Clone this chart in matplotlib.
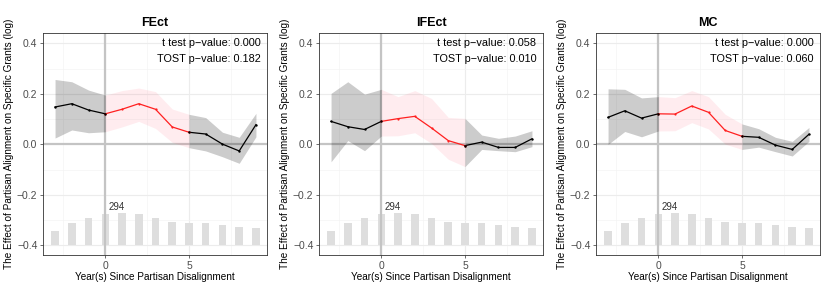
import numpy as np
import matplotlib
matplotlib.use("Agg")
import matplotlib.pyplot as plt

plt.rcParams['font.family'] = ['Liberation Sans', 'DejaVu Sans']
plt.rcParams['axes.unicode_minus'] = True

years = [-3, -2, -1, 0, 1, 2, 3, 4, 5, 6, 7, 8, 9]
counts = [132, 200, 246, 283, 294, 283, 246, 214, 200, 200, 182, 166, 157]

titles = ["FEct", "IFEct", "MC"]
t_pvals = ["0.000", "0.058", "0.000"]
tost_pvals = ["0.182", "0.010", "0.060"]

fect_est = [0.148, 0.161, 0.136, 0.121, 0.139, 0.161, 0.139, 0.069, 0.048, 0.041, 0.001, -0.026, 0.078]
fect_hi = [0.257, 0.248, 0.215, 0.195, 0.213, 0.223, 0.209, 0.140, 0.119, 0.106, 0.048, 0.028, 0.123]
fect_lo = [0.025, 0.057, 0.046, 0.050, 0.069, 0.091, 0.063, 0.008, -0.013, -0.026, -0.049, -0.075, 0.030]

ifect_est = [0.091, 0.070, 0.059, 0.091, 0.102, 0.111, 0.065, 0.015, -0.005, 0.009, -0.012, -0.012, 0.022]
ifect_hi = [0.202, 0.248, 0.199, 0.218, 0.189, 0.213, 0.182, 0.107, 0.103, 0.037, 0.024, 0.033, 0.054]
ifect_lo = [-0.069, 0.015, -0.025, 0.033, 0.034, 0.046, 0.004, -0.059, -0.088, -0.020, -0.025, -0.029, -0.009]

mc_est = [0.107, 0.133, 0.104, 0.121, 0.120, 0.152, 0.127, 0.055, 0.032, 0.028, -0.003, -0.020, 0.040]
mc_hi = [0.220, 0.218, 0.184, 0.189, 0.185, 0.213, 0.189, 0.119, 0.081, 0.062, 0.028, 0.012, 0.067]
mc_lo = [0.000, 0.051, 0.030, 0.053, 0.054, 0.086, 0.061, 0.001, -0.020, -0.011, -0.029, -0.046, 0.012]

series = [(fect_est, fect_lo, fect_hi), (ifect_est, ifect_lo, ifect_hi), (mc_est, mc_lo, mc_hi)]

fig = plt.figure(figsize=(8.3, 2.93), dpi=100)
lefts = [43, 319, 596]
x = np.array(years)
bar_base = -0.4
bar_scale = 0.129 / max(counts)

for k in range(3):
    ax = fig.add_axes([lefts[k] / 830, 38 / 293, 224 / 830, 222 / 293])
    est, lo, hi = [np.array(s) for s in series[k]]

    # grid
    for g in [-2.5, 2.5, 7.5]:
        ax.axvline(g, color='#f4f4f4', lw=0.5, zorder=0)
    for g in [0, 5]:
        ax.axvline(g, color='#ececec', lw=0.8, zorder=0)
    for g in [-0.3, -0.1, 0.1, 0.3]:
        ax.axhline(g, color='#f4f4f4', lw=0.5, zorder=0)
    for g in [-0.4, -0.2, 0.2, 0.4]:
        ax.axhline(g, color='#ececec', lw=0.8, zorder=0)

    # count bars
    h = np.array(counts) * bar_scale
    ax.bar(x, h, bottom=bar_base, width=0.45, color='#dedede', zorder=1)
    imax = int(np.argmax(counts))
    ax.text(x[imax] - 0.3, bar_base + h[imax] + 0.022, str(counts[imax]),
            ha='center', va='center', fontsize=7, color='#333333')

    ax.axhline(0, color='#c4c4c4', lw=1.6, zorder=2)
    ax.axvline(0, color='#c4c4c4', lw=1.6, zorder=2)

    pre = x <= 0
    mid = (x >= 0) & (x <= 5)
    post = x >= 5
    ax.fill_between(x[pre], lo[pre], hi[pre], color='#000000', alpha=0.2, lw=0, zorder=3)
    ax.fill_between(x[post], lo[post], hi[post], color='#000000', alpha=0.2, lw=0, zorder=3)
    ax.fill_between(x[mid], lo[mid], hi[mid], color='#ff3355', alpha=0.09, lw=0, zorder=3)

    ax.plot(x[mid], est[mid], color='#ff2020', lw=0.9, zorder=4)
    ax.scatter(x[mid], est[mid], color='#ff2020', s=2.5, lw=0, zorder=5)
    ax.plot(x[pre], est[pre], color='black', lw=0.9, zorder=4)
    ax.plot(x[post], est[post], color='black', lw=0.9, zorder=4)
    ax.scatter(x[pre], est[pre], color='black', s=3, lw=0, zorder=5)
    ax.scatter(x[post], est[post], color='black', s=3, lw=0, zorder=5)

    ax.text(9.27, 0.403, "t test p\u2212value: " + t_pvals[k], ha='right', va='center', fontsize=7.8)
    ax.text(9.27, 0.338, "TOST p\u2212value: " + tost_pvals[k], ha='right', va='center', fontsize=7.8)

    ax.set_xlim(-3.72, 9.66)
    ax.set_ylim(-0.438, 0.441)
    ax.set_xticks([0, 5])
    ax.set_yticks([-0.4, -0.2, 0.0, 0.2, 0.4])
    ax.set_yticklabels(["\u22120.4", "\u22120.2", "0.0", "0.2", "0.4"])
    ax.tick_params(labelsize=7.5, length=2.5, width=0.5, color='#333333', labelcolor='#4d4d4d', pad=1.5)
    for sp in ax.spines.values():
        sp.set_color('#333333')
        sp.set_linewidth(0.6)
    ax.set_title(titles[k], fontsize=9, fontweight='bold', pad=5)
    ax.set_xlabel("Year(s) Since Partisan Disalignment", fontsize=7.2, labelpad=1)
    ax.set_ylabel("The Effect of Partisan Alignment on Specific Grants (log)", fontsize=7.2, labelpad=2)

fig.savefig("out.png", dpi=100)
